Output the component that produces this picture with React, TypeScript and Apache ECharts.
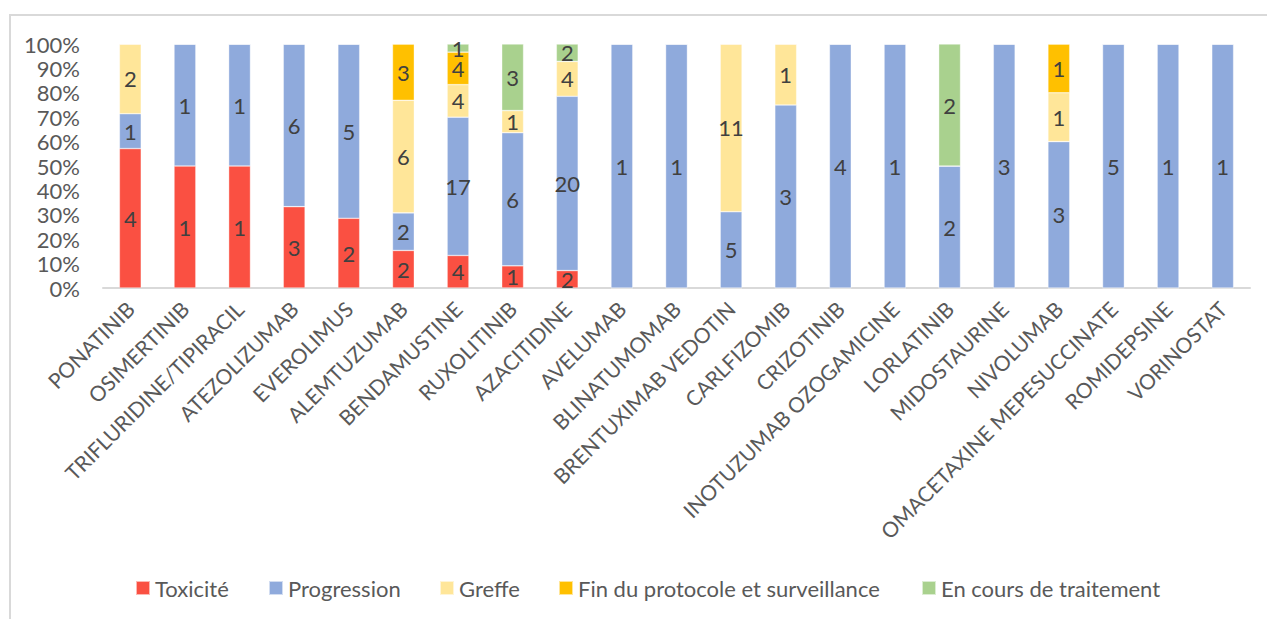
import React, { useEffect, useRef } from "react";
import * as echarts from "echarts";

const categories = [
  "PONATINIB", "OSIMERTINIB", "TRIFLURIDINE/TIPIRACIL", "ATEZOLIZUMAB", "EVEROLIMUS",
  "ALEMTUZUMAB", "BENDAMUSTINE", "RUXOLITINIB", "AZACITIDINE", "AVELUMAB",
  "BLINATUMOMAB", "BRENTUXIMAB VEDOTIN", "CARLFIZOMIB", "CRIZOTINIB", "INOTUZUMAB OZOGAMICINE",
  "LORLATINIB", "MIDOSTAURINE", "NIVOLUMAB", "OMACETAXINE MEPESUCCINATE", "ROMIDEPSINE", "VORINOSTAT",
];

const toxicite =     [4, 1, 1, 3, 2, 2, 4, 1, 2, 0, 0, 0, 0, 0, 0, 0, 0, 0, 0, 0, 0];
const progression =  [1, 1, 1, 6, 5, 2, 17, 6, 20, 1, 1, 5, 3, 4, 1, 2, 3, 3, 5, 1, 1];
const greffe =       [2, 0, 0, 0, 0, 6, 4, 1, 4, 0, 0, 11, 1, 0, 0, 0, 0, 1, 0, 0, 0];
const finProtocole = [0, 0, 0, 0, 0, 3, 4, 0, 0, 0, 0, 0, 0, 0, 0, 0, 0, 1, 0, 0, 0];
const enCours =      [0, 0, 0, 0, 0, 0, 1, 3, 2, 0, 0, 0, 0, 0, 0, 2, 0, 0, 0, 0, 0];

const seriesNames = ["Toxicité", "Progression", "Greffe", "Fin du protocole et surveillance", "En cours de traitement"];
const seriesCounts = [toxicite, progression, greffe, finProtocole, enCours];
const seriesColors = ["#FA5042", "#8FAADC", "#FFE699", "#FFC000", "#A9D18E"];
const legendX = [135, 268, 439, 558, 921];

const yTicks = [0, 10, 20, 30, 40, 50, 60, 70, 80, 90, 100];

const FONT = "Lato, 'Noto Sans', sans-serif";

export default function App() {
  const ref = useRef<HTMLDivElement>(null);
  useEffect(() => {
    if (!ref.current) return;
    const chart = echarts.init(ref.current, null, { renderer: "svg" });
    const totals = categories.map((_, i) => seriesCounts.reduce((s, arr) => s + arr[i], 0));
    const series = seriesNames.map((name, si) => ({
      name,
      type: "bar",
      stack: "total",
      barWidth: "40%",
      itemStyle: { color: seriesColors[si], borderColor: "rgba(255,255,255,0.6)", borderWidth: 0.6 },
      data: seriesCounts[si].map((c, i) => (c / totals[i]) * 100),
      label: {
        show: true,
        position: "inside",
        fontFamily: FONT,
        fontSize: 22,
        color: "#404040",
        formatter: (p: any) => {
          const c = seriesCounts[si][p.dataIndex];
          return c ? String(c) : "";
        },
      },
    }));
    chart.setOption({
      animation: false,
      textStyle: { fontFamily: FONT },
      graphic: [
        {
          type: "rect",
          shape: { x: 10, y: 15, width: 1400, height: 800 },
          style: { fill: "none", stroke: "#D9D9D9", lineWidth: 2 },
          silent: true,
        },
      ],
      legend: seriesNames.map((n, i) => ({
        data: [n],
        left: legendX[i],
        top: 577,
        itemWidth: 14,
        itemHeight: 14,
        icon: "rect",
        padding: 0,
        textStyle: { fontFamily: FONT, fontSize: 22, color: "#595959" },
      })),
      grid: { left: 103, right: 17, top: 44, bottom: 331 },
      xAxis: {
        type: "category",
        data: categories,
        axisLine: { lineStyle: { color: "#D9D9D9", width: 2 } },
        axisTick: { show: false },
        axisLabel: {
          interval: 0,
          rotate: 45,
          fontFamily: FONT,
          fontSize: 21,
          color: "#595959",
          margin: 17,
        },
      },
      yAxis: {
        type: "value",
        min: yTicks[0],
        max: yTicks[yTicks.length - 1],
        interval: 10,
        axisLine: { show: false },
        axisTick: { show: false },
        splitLine: { show: false },
        axisLabel: {
          formatter: "{value}%",
          fontFamily: FONT,
          fontSize: 22,
          color: "#595959",
          margin: 23,
        },
      },
      series,
    });
    return () => chart.dispose();
  }, []);
  return (
    <div
      ref={ref}
      style={{ position: "absolute", left: 0, top: 0, width: 1267, height: 619, background: "#fff" }}
    />
  );
}
